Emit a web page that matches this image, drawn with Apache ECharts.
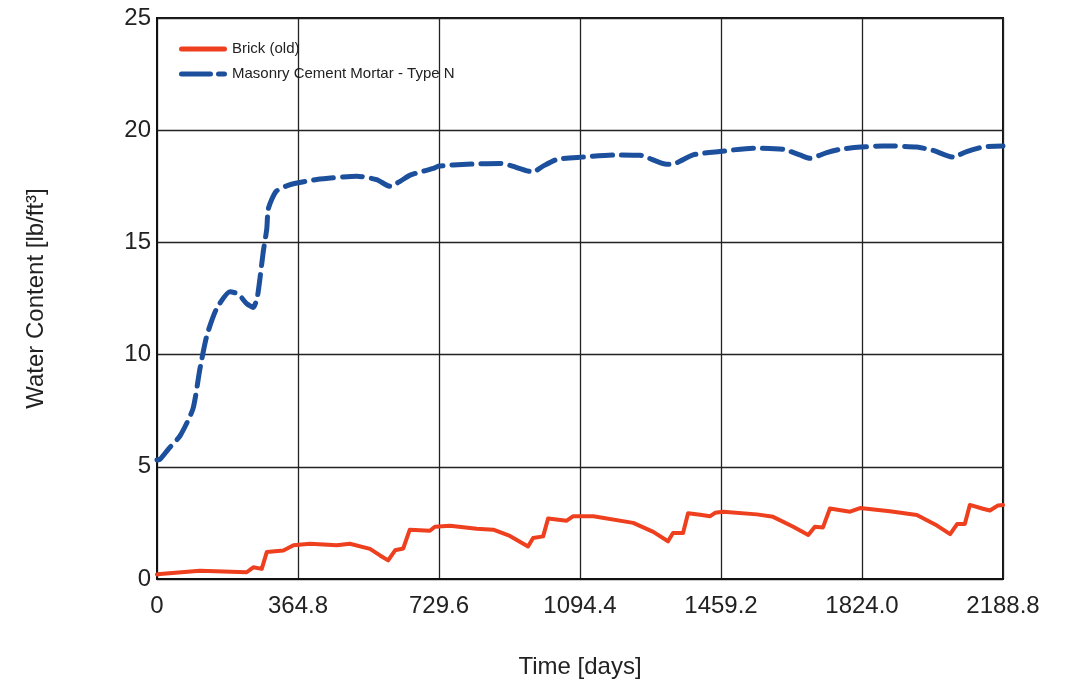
<!DOCTYPE html>
<html>
<head>
<meta charset="utf-8">
<script src="https://cdn.jsdelivr.net/npm/echarts@6/dist/echarts.min.js"></script>
<style>html,body{margin:0;padding:0;background:#fff}#c{width:1066px;height:684px}</style>
</head>
<body>
<div id="c"></div>
<script>
var seriesNames = ['Brick (old)', 'Masonry Cement Mortar - Type N'];
var xTicks = [0, 364.8, 729.6, 1094.4, 1459.2, 1824.0, 2188.8];
var yTicks = [0, 5, 10, 15, 20, 25];

var brickT = [0, 8, 111, 232, 249, 271, 284, 327, 353, 396, 465, 499, 551, 577, 598, 616, 637, 654, 706, 719, 758, 827, 870, 913, 960, 973, 999, 1012, 1060, 1077, 1129, 1232, 1284, 1322, 1335, 1361, 1374, 1405, 1431, 1444, 1465, 1552, 1594, 1646, 1685, 1702, 1723, 1741, 1793, 1819, 1896, 1966, 2018, 2052, 2070, 2090, 2103, 2137, 2155, 2176, 2188.8];
var brickV = [0.2, 0.22, 0.37, 0.3, 0.52, 0.45, 1.2, 1.27, 1.5, 1.57, 1.5, 1.57, 1.34, 1.05, 0.83, 1.28, 1.36, 2.2, 2.15, 2.33, 2.37, 2.24, 2.2, 1.92, 1.45, 1.83, 1.9, 2.7, 2.6, 2.8, 2.8, 2.5, 2.1, 1.68, 2.05, 2.05, 2.93, 2.86, 2.8, 2.95, 3.0, 2.88, 2.77, 2.33, 1.96, 2.33, 2.3, 3.14, 3.0, 3.16, 3.02, 2.85, 2.38, 2.0, 2.45, 2.45, 3.3, 3.13, 3.05, 3.28, 3.3];

var mortarT = [0, 8, 30, 60, 93, 111, 129, 154, 189, 210, 232, 249, 260, 275, 284, 288, 308, 344, 413, 517, 568, 603, 629, 655, 715, 729.6, 802, 887, 913, 973, 999, 1035, 1099, 1190, 1250, 1319, 1345, 1387, 1456, 1542, 1620, 1663, 1689, 1733, 1767, 1821, 1878, 1966, 2008, 2059, 2095, 2137, 2188.8];
var mortarV = [5.3, 5.34, 5.8, 6.39, 7.58, 9.36, 10.85, 12.04, 12.8, 12.7, 12.27, 12.1, 12.6, 14.6, 15.6, 16.5, 17.27, 17.57, 17.8, 17.95, 17.8, 17.5, 17.72, 18.0, 18.3, 18.4, 18.48, 18.52, 18.43, 18.14, 18.4, 18.7, 18.8, 18.9, 18.88, 18.48, 18.55, 18.9, 19.05, 19.2, 19.15, 18.9, 18.75, 19.0, 19.15, 19.25, 19.3, 19.25, 19.1, 18.8, 19.05, 19.25, 19.3];

function pairs(t, v) { return t.map(function (x, i) { return [x, v[i]]; }); }

var RED = '#ee3f1e', BLUE = '#1c4f9c';
var chart = echarts.init(document.getElementById('c'));
var font = 'Liberation Sans, Arial, sans-serif';
chart.setOption({
  animation: false,
  backgroundColor: '#fff',
  grid: { left: 157, top: 18, width: 846, height: 562, show: true, borderColor: '#111', borderWidth: 2, backgroundColor: 'transparent' },
  legend: {
    orient: 'vertical', left: 179, top: 41, padding: 0, itemWidth: 48, itemHeight: 5, itemGap: 9,
    textStyle: { fontFamily: font, fontSize: 15, lineHeight: 16, color: '#222' },
    data: [
      { name: seriesNames[0], icon: 'path://M2.5,0h43a2.5,2.5 0 0 1 0,5h-43a2.5,2.5 0 0 1 0,-5z', itemStyle: { color: RED } },
      { name: seriesNames[1], icon: 'path://M2.5,0h29a2.5,2.5 0 0 1 0,5h-29a2.5,2.5 0 0 1 0,-5z M39.5,0h6a2.5,2.5 0 0 1 0,5h-6a2.5,2.5 0 0 1 0,-5z', itemStyle: { color: BLUE } }
    ]
  },
  xAxis: {
    type: 'value', min: 0, max: 2188.8, interval: 364.8,
    name: 'Time [days]', nameLocation: 'middle', nameGap: 76,
    nameTextStyle: { fontFamily: font, fontSize: 24, color: '#222' },
    axisLine: { show: true, lineStyle: { color: '#111', width: 2 } },
    axisTick: { show: false },
    axisLabel: { margin: 15, fontFamily: font, fontSize: 24, color: '#222',
      formatter: function (v) { return v === 0 ? '0' : v.toFixed(1); } },
    splitLine: { show: true, lineStyle: { color: '#222', width: 1.3 } }
  },
  yAxis: {
    type: 'value', min: 0, max: 25, interval: 5,
    name: 'Water Content [lb/ft³]', nameLocation: 'middle', nameGap: 109,
    nameTextStyle: { fontFamily: font, fontSize: 24, color: '#222' },
    axisLine: { show: true, lineStyle: { color: '#111', width: 2 } },
    axisTick: { show: false },
    axisLabel: { margin: 6, fontFamily: font, fontSize: 24, color: '#222' },
    splitLine: { show: true, lineStyle: { color: '#222', width: 1.3 } }
  },
  series: [
    {
      name: seriesNames[0], type: 'line', symbol: 'none', data: pairs(brickT, brickV),
      lineStyle: { color: RED, width: 4, cap: 'round', join: 'round' },
      itemStyle: { color: RED }, z: 3
    },
    {
      name: seriesNames[1], type: 'line', symbol: 'none', smooth: 0.2, data: pairs(mortarT, mortarV),
      lineStyle: { color: BLUE, width: 5, type: [20, 9], cap: 'round', join: 'round' },
      itemStyle: { color: BLUE }, z: 3
    }
  ]
});
</script>
</body>
</html>
